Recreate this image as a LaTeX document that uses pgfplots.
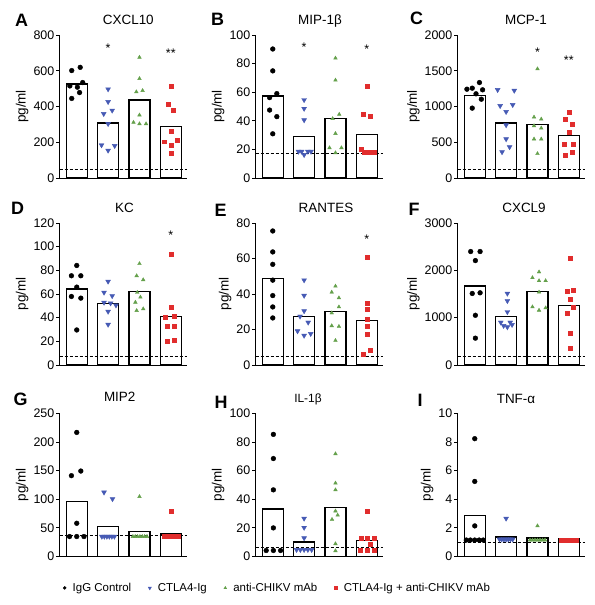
\documentclass[border=0pt]{standalone}
\usepackage{fontspec}
\setmainfont{Liberation Sans}
\usepackage{pgfplots}
\pgfplotsset{compat=1.18}
\definecolor{cblue}{RGB}{70,90,180}
\definecolor{cgreen}{RGB}{100,160,75}
\definecolor{cred}{RGB}{225,45,45}
\tikzset{sig/.style={font=\fontsize{12.5}{12.5}\selectfont, inner sep=0pt, yshift=-3pt}}
\pgfplotsset{
 panel/.style={
   scale only axis, width=127bp, height=143bp, anchor=south west,
   xmin=-0.55, xmax=3.5, ymin=0,
   axis x line=bottom, axis y line=left,
   axis line style={-, line width=0.9pt, black},
   xtick=\empty,
   tick align=outside, major tick length=3.5bp,
   ytick style={line width=0.9pt, black},
   yticklabel style={font=\fontsize{12.5}{12.5}\selectfont, inner sep=1.5pt},
   ylabel={pg/ml}, ylabel style={font=\fontsize{13.5}{13.5}\selectfont},
   /pgf/number format/assume math mode=true,
   /pgf/number format/1000 sep={},
   clip=false,
 },
 bars/.style={ybar, bar width=0.67, bar shift=0pt, fill=white, draw=black, line width=1.3pt, forget plot},
 lod/.style={black, line width=0.9pt, dash pattern=on 3bp off 2bp, forget plot},
 g0/.style={only marks, mark=*, mark size=2.4pt, black, forget plot},
 g1/.style={only marks, mark=triangle*, mark size=2.8pt, mark options={rotate=180}, cblue, forget plot},
 g2/.style={only marks, mark=triangle*, mark size=2.1pt, cgreen, forget plot},
 g3/.style={only marks, mark=square*, mark size=2pt, cred, forget plot},
}
\begin{document}
\begin{tikzpicture}[x=1bp,y=1bp]
\path[use as bounding box] (0,0) rectangle (595,605);

% ---------------- A: CXCL10
\begin{axis}[panel, at={(59.5bp,427bp)}, ymax=800, ytick={0,200,...,800}]
\addplot[bars] coordinates {(0,526) (1,307) (2,437) (3,288)};
\addplot[lod] coordinates {(-0.55,50) (3.5,50)};
\addplot[g0] coordinates {(-0.16,601) (0.11,619) (0.19,534) (-0.22,515) (0.02,508) (0.09,478) (-0.16,445)};
\addplot[g1] coordinates {(1,497) (1,426) (0.86,359) (1.13,378) (1,303) (0.79,184) (1.21,180) (1,154)};
\addplot[g2] coordinates {(2,675) (2,556) (1.9,482) (2.1,489) (2,352) (1.81,311) (2,303) (2.21,303)};
\addplot[g3] coordinates {(3,515) (2.91,415) (3.09,381) (3,259) (2.8,203) (3.19,210) (3,184) (3,140)};
\node[sig] at (axis cs:1,744) {*};
\node[sig] at (axis cs:3,716) {**};
\end{axis}

% ---------------- B: MIP-1beta
\begin{axis}[panel, at={(255.5bp,427bp)}, ymax=100, ytick={0,20,...,100}]
\addplot[bars] coordinates {(0,57.4) (1,28.8) (2,41.5) (3,30.4)};
\addplot[lod] coordinates {(-0.55,16.9) (3.5,16.9)};
\addplot[g0] coordinates {(0,90.2) (0,74.9) (0.13,59) (-0.1,56.2) (-0.1,47.5) (0.13,42.9) (0,30.9)};
\addplot[g1] coordinates {(1,54.6) (1,48.5) (1,40.5) (0.82,18.5) (0.92,18.5) (1.12,18.5) (1.22,18.5) (1,16.2)};
\addplot[g2] coordinates {(2,83.8) (2,68.4) (2.12,44.5) (1.91,41.5) (2,31.1) (1.81,21.1) (2.19,21.1) (2,17.6)};
\addplot[g3] coordinates {(3,64.4) (2.89,44.5) (3.11,42.9) (2.82,20.4) (2.92,18) (3.02,18) (3.12,18) (3.22,18)};
\node[sig] at (axis cs:1,93.7) {*};
\node[sig] at (axis cs:3,91.8) {*};
\end{axis}

% ---------------- C: MCP-1
\begin{axis}[panel, at={(457.5bp,427bp)}, ymax=2000, ytick={0,500,...,2000}]
\addplot[bars] coordinates {(0,1150) (1,767) (2,750) (3,593)};
\addplot[lod] coordinates {(-0.55,116) (3.5,116)};
\addplot[g0] coordinates {(0.15,1335) (-0.08,1256) (0.25,1233) (-0.25,1242) (0.04,1177) (0.21,1102) (-0.08,977)};
\addplot[g1] coordinates {(0.73,1233) (1.26,1223) (0.81,1009) (1.21,1023) (1,926) (1,740) (1,544) (1.11,433) (0.87,363)};
\addplot[g2] coordinates {(2,1526) (1.89,851) (2.12,823) (1.89,730) (2.12,698) (1.89,544) (2.12,544) (2,340)};
\addplot[g3] coordinates {(3,921) (2.88,828) (3.11,749) (3,637) (2.86,479) (3.13,479) (3.11,358) (2.89,312)};
\node[sig] at (axis cs:2,1805) {*};
\node[sig] at (axis cs:3,1688) {**};
\end{axis}

% ---------------- D: KC
\begin{axis}[panel, height=142bp, at={(59.5bp,240bp)}, ymax=120, ytick={0,20,...,120}]
\addplot[bars] coordinates {(0,64.1) (1,52.2) (2,62.1) (3,40.9)};
\addplot[lod] coordinates {(-0.55,7.6) (3.5,7.6)};
\addplot[g0] coordinates {(0,84.1) (-0.17,75.4) (0.13,75.4) (0,65.8) (-0.17,57.9) (0.13,56.5) (0,29.6)};
\addplot[g1] coordinates {(1,70.6) (0.87,61.3) (1.13,58.4) (0.87,52.8) (1.08,52.2) (1.25,50.5) (1,45.2) (1,34.2)};
\addplot[g2] coordinates {(2,85.6) (1.91,75.4) (2.12,72) (1.93,61.3) (2.03,57.3) (1.87,53) (1.91,46) (2.12,47.4)};
\addplot[g3] coordinates {(3,94) (3,48.8) (2.83,40.1) (3.11,40.9) (2.87,32.5) (3.11,32.5) (2.87,19.8) (3.11,20.6)};
\node[sig] at (axis cs:3,112) {*};
\end{axis}

% ---------------- E: RANTES
\begin{axis}[panel, height=142bp, at={(255.5bp,240bp)}, ymax=80, ytick={0,20,...,80}]
\addplot[bars] coordinates {(0,48.8) (1,27.4) (2,30.3) (3,25.2)};
\addplot[lod] coordinates {(-0.55,4.7) (3.5,4.7)};
\addplot[g0] coordinates {(0,75.5) (0,63.7) (0,56.7) (0,47.8) (0,39.1) (0,32.7) (0,26.5)};
\addplot[g1] coordinates {(1,47.8) (1,39.1) (1,30.4) (0.87,27.4) (1.13,24) (0.79,19.1) (1.21,17.6) (1,16.6)};
\addplot[g2] coordinates {(2,44.4) (1.88,41) (2.11,37.8) (2.11,32.7) (1.88,29.3) (1.88,22.1) (2.11,21.7) (2,13.8)};
\addplot[g3] coordinates {(3,60.5) (3,35) (3,31.2) (3,25.9) (3,21.7) (3,17.2) (3.11,8.5) (2.89,6.2)};
\node[sig] at (axis cs:3,72.8) {*};
\end{axis}

% ---------------- F: CXCL9
\begin{axis}[panel, height=142bp, at={(457.5bp,240bp)}, ymax=3000, ytick={0,1000,2000,3000}]
\addplot[bars] coordinates {(0,1667) (1,1028) (2,1546) (3,1255)};
\addplot[lod] coordinates {(-0.55,177) (3.5,177)};
\addplot[g0] coordinates {(-0.13,2397) (0.17,2397) (0.02,2206) (-0.08,1511) (0.17,1525) (0.02,1050) (0.02,567)};
\addplot[g1] coordinates {(1.04,1511) (1.04,1355) (1.04,1121) (0.83,901) (1.13,901) (0.92,830) (1.19,851) (1.04,801)};
\addplot[g2] coordinates {(2.05,1965) (1.84,1844) (2.05,1780) (2.26,1780) (2.05,1539) (1.84,1227) (2.05,1156) (2.26,1206)};
\addplot[g3] coordinates {(3.04,2248) (2.94,1567) (3.15,1582) (3.04,1383) (3.15,1227) (2.94,1099) (3.04,674) (3.04,355)};
\end{axis}

% ---------------- G: MIP2
\begin{axis}[panel, at={(59.5bp,48.5bp)}, ymax=250, ytick={0,50,...,250}]
\addplot[bars] coordinates {(0,95.9) (1,52.3) (2,43.6) (3,39.5)};
\addplot[lod] coordinates {(-0.55,36) (3.5,36)};
\addplot[g0] coordinates {(0,216.9) (-0.17,141.3) (0.13,149.4) (0,58.1) (-0.23,34.9) (0,34.9) (0.23,34.9)};
\addplot[g1] coordinates {(0.87,112.2) (1.14,100.6) (0.8,34.9) (0.88,34.9) (0.96,34.9) (1.04,34.9) (1.12,34.9) (1.2,34.9)};
\addplot[g2] coordinates {(2,104.7) (1.79,34.9) (1.865,34.9) (1.94,34.9) (2.015,34.9) (2.09,34.9) (2.165,34.9) (2.24,34.9)};
\addplot[g3] coordinates {(3,78.5) (2.79,34.9) (2.865,34.9) (2.94,34.9) (3.015,34.9) (3.09,34.9) (3.165,34.9) (3.24,34.9)};
\end{axis}

% ---------------- H: IL-1beta (with legend)
\begin{axis}[panel, at={(255.5bp,48.5bp)}, ymax=100, ytick={0,20,...,100},
  legend columns=4,
  legend image code/.code={\draw[#1] plot coordinates {(0bp,0bp)}; \path[draw=none,fill=none] (-2.5bp,-0.1bp) rectangle (6bp,0.1bp);},
  legend style={at={(0.17,-0.22)}, anchor=center, draw=none, fill=none,
    font=\fontsize{11.5}{13}\selectfont,
    /tikz/every even column/.append style={column sep=14bp}},
  ]
\addlegendimage{only marks, mark=*, mark size=1.5pt, black}
\addlegendentry{IgG Control}
\addlegendimage{only marks, mark=triangle*, mark size=1.9pt, mark options={rotate=180}, cblue}
\addlegendentry{CTLA4-Ig}
\addlegendimage{only marks, mark=triangle*, mark size=1.6pt, cgreen}
\addlegendentry{anti-CHIKV mAb}
\addlegendimage{only marks, mark=square*, mark size=1.4pt, cred}
\addlegendentry{CTLA4-Ig + anti-CHIKV mAb}
\addplot[bars] coordinates {(0,33.2) (1,10.1) (2,34.1) (3,11.3)};
\addplot[lod] coordinates {(-0.55,6.1) (3.5,6.1)};
\addplot[g0] coordinates {(0.02,85.4) (0.02,68.5) (0.02,46.6) (0.02,20) (-0.21,4.2) (0.02,4.2) (0.25,4.2)};
\addplot[g1] coordinates {(1,26.6) (1,20.2) (1,12.9) (0.76,4.7) (0.88,4.7) (1,4.7) (1.12,4.7) (1.24,4.7)};
\addplot[g2] coordinates {(2,71.8) (2,51.3) (2,46.6) (2,31.8) (2.07,28.9) (1.89,25.9) (2,8.9) (2,4)};
\addplot[g3] coordinates {(3,31.8) (2.81,12.9) (3,12.9) (3.23,12.9) (3.11,8.9) (2.79,4.2) (3,4.2) (3.23,4.2)};
\end{axis}

% ---------------- I: TNF-alpha
\begin{axis}[panel, at={(457.5bp,48.5bp)}, ymax=10, ytick={0,2,...,10}]
\addplot[bars] coordinates {(0,2.89) (1,1.36) (2,1.29) (3,1.25)};
\addplot[lod] coordinates {(-0.55,1.01) (3.5,1.01)};
\addplot[g0] coordinates {(0,8.24) (0,5.25) (0,2.14) (-0.27,1.15) (-0.14,1.15) (0,1.15) (0.14,1.15) (0.27,1.15)};
\addplot[g1] coordinates {(1,2.66) (0.79,1.2) (0.86,1.2) (0.93,1.2) (1,1.2) (1.07,1.2) (1.14,1.2) (1.21,1.2)};
\addplot[g2] coordinates {(2,2.14) (1.76,1.15) (1.84,1.15) (1.92,1.15) (2,1.15) (2.08,1.15) (2.16,1.15) (2.24,1.15)};
\addplot[g3] coordinates {(2.77,1.15) (2.836,1.15) (2.9,1.15) (2.967,1.15) (3.033,1.15) (3.1,1.15) (3.164,1.15) (3.23,1.15)};
\end{axis}

% ---------------- panel letters
\begin{scope}[every node/.style={inner sep=0pt, anchor=base, font=\fontsize{18}{18}\bfseries\selectfont}]
\node at (21.7,578.9) {A};
\node at (217.5,579.5) {B};
\node at (416.7,580.2) {C};
\node at (17.5,390.7) {D};
\node at (220.5,388.5) {E};
\node at (414,389.5) {F};
\node at (20.5,199.5) {G};
\node at (221,196.9) {H};
\node at (420,198.5) {I};
\end{scope}

% ---------------- titles
\begin{scope}[every node/.style={inner sep=0pt, anchor=base, font=\fontsize{13.5}{13.5}\selectfont}]
\node at (128.3,580.7) {CXCL10};
\node at (320,580.7) {MIP-1β};
\node at (526,580.2) {MCP-1};
\node at (124.5,392.7) {KC};
\node at (326,392.2) {RANTES};
\node at (524,392.2) {CXCL9};
\node at (119.7,203.5) {MIP2};
\node[font=\fontsize{12}{12}\selectfont] at (308,202.4) {IL-1β};
\node at (516,201.2) {TNF-α};
\end{scope}
\end{tikzpicture}
\end{document}
